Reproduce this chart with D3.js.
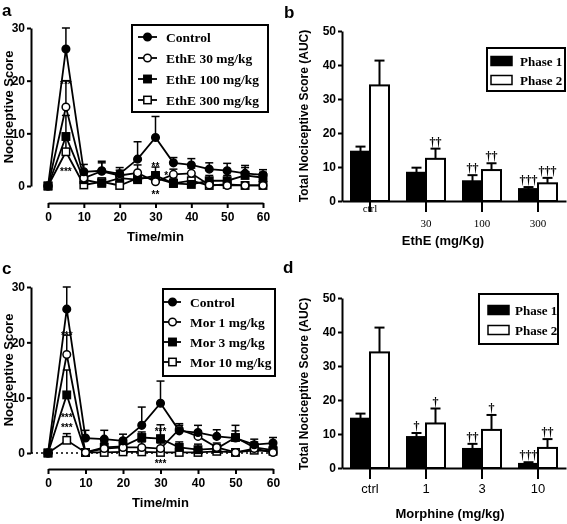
<!DOCTYPE html>
<html><head><meta charset="utf-8">
<script src="https://cdn.jsdelivr.net/npm/d3@7"></script>
<style>body{margin:0;background:#fff}svg{display:block;will-change:transform}text{-webkit-font-smoothing:antialiased}</style>
</head><body>
<svg id="c" width="567" height="524"></svg>
<script>
// ---------- DATA ----------
const times = [0,5,10,15,20,25,30,35,40,45,50,55,60];
const yTicksLine = [0,10,20,30];
const xTicksLine = [0,10,20,30,40,50,60];

// Panel a
const aNames = ["Control","EthE 30 mg/kg","EthE 100 mg/kg","EthE 300 mg/kg"];
const aControl = [0,26,2.7,2.9,2.3,5.1,9.2,4.4,4.0,3.2,2.9,2.4,2.1];
const aEth30   = [0,15,1.5,2.8,2.0,2.5,0.8,2.2,2.4,0.2,0.1,0.1,0.1];
const aEth100  = [0,9.4,1.2,0.5,1.5,1.2,2.0,0.5,0.3,1.0,1.0,2.0,1.6];
const aEth300  = [0,6.5,0.2,0.8,0.1,1.5,1.5,0.5,1.0,0.1,0.3,0.1,0.1];
const aErrCtrl = [0,4,1.4,1.8,1.2,3.3,4,1,1.2,1.2,1.4,1.5,1];
const aErr30   = [0,5,1,1.6,1,1.5,1,1,1,0.5,0.5,0.5,0.5];
const aErr100  = [0,4,1,1,1,1,1.6,1,1,1,1,1.5,1];
const aErr300  = [0,3,0.6,0.5,0.3,1,1,0.5,0.5,0.3,0.3,0.3,0.3];
const aStars = [{t:5,v:19.5,s:"***"},{t:5,v:3.0,s:"***"},{t:30,v:3.9,s:"**"},{t:30,v:-1.4,s:"**"},{t:33,v:2.2,s:"*"}];

// Panel c
const cNames = ["Control","Mor 1 mg/kg","Mor 3 mg/kg","Mor 10 mg/kg"];
const cControl = [0,26,2.7,2.5,2.2,5.0,9.0,4.0,3.7,3.0,2.7,1.5,1.8];
const cMor1    = [0,17.8,0.1,0.8,1.0,1.0,0.8,4.3,3.0,1.0,0.1,0.8,0.1];
const cMor3    = [0,10.5,0.1,1.0,1.2,2.8,2.6,1.0,0.6,0.8,2.8,1.0,0.5];
const cMor10   = [0,2.3,0.1,0.1,0.2,0.2,0.1,0.1,0.1,0.3,0.1,0.5,0.3];
const cErrCtrl = [0,4,1.4,1.6,1.2,3.3,4,1,1.3,1.2,1.3,1,1];
const cErr1    = [0,3.5,0.5,1,1,1,1,1,1,0.5,0.5,0.5,0.5];
const cErr3    = [0,4.5,0.5,1,1,1,2.5,1,1,1,2.2,1,1];
const cErr10   = [0,1.2,0.3,0.3,0.3,0.3,0.3,0.3,0.3,0.3,0.3,0.3,0.3];
const cStars = [{t:5,v:21.5,s:"***"},{t:5,v:6.6,s:"***"},{t:5,v:4.8,s:"***"},{t:30,v:4.2,s:"***"},{t:30,v:-1.6,s:"***"}];

// Bar panels
const phaseNames = ["Phase 1","Phase 2"];
const yTicksBar = [0,10,20,30,40,50];
const bGroups = ["ctrl","30","100","300"];
const bPhase1 = [14.5,8.3,5.8,3.5];
const bPhase2 = [34,12.4,9.1,5.2];
const bErr1 = [1.5,1.5,1.8,0.6];
const bErr2 = [7.3,3.0,2.0,1.6];
const bMarks1 = ["","","††","†††"];
const bMarks2 = ["","††","††","†††"];

const dGroups = ["ctrl","1","3","10"];
const dPhase1 = [14.5,9.1,5.6,1.2];
const dPhase2 = [34,13.1,11.2,5.9];
const dErr1 = [1.5,1.2,1.5,0.5];
const dErr2 = [7.3,4.4,4.4,2.6];
const dMarks1 = ["","†","††","†††"];
const dMarks2 = ["","†","†","††"];

// ---------- DRAW ----------
const svg = d3.select("#c");
const SANS = "'Liberation Sans', Arial, sans-serif";
const SERIF = "'Liberation Serif', 'Times New Roman', serif";

function panelLabel(x,y,t){
  svg.append("text").attr("x",x).attr("y",y).text(t).attr("fill","#000")
    .attr("font-family",SANS).attr("font-weight","bold").attr("font-size",17);
}

function styleAxis(g, fs){
  g.selectAll("path,line").attr("stroke","#000").attr("stroke-width",2);
  g.selectAll("text").attr("font-family",SANS).attr("font-weight","bold")
    .attr("font-size",fs).attr("fill","#000");
}

function markerShape(g, kind, x, y){
  if (kind===0 || kind===1){
    g.append("circle").attr("cx",x).attr("cy",y).attr("r",3.8)
      .attr("fill", kind===0?"#000":"#fff").attr("stroke","#000").attr("stroke-width",1.5);
  } else {
    g.append("rect").attr("x",x-3.7).attr("y",y-3.7).attr("width",7.4).attr("height",7.4)
      .attr("fill", kind===2?"#000":"#fff").attr("stroke","#000").attr("stroke-width",1.5);
  }
}

function linePanel(o){
  const x = d3.scaleLinear().domain([0,60]).range(o.xr);
  const y = d3.scaleLinear().domain([0,30]).range(o.yr);
  const g = svg.append("g");
  const ya = g.append("g").attr("transform",`translate(${o.yAxisX},0)`)
    .call(d3.axisLeft(y).tickValues(yTicksLine).tickSize(4).tickPadding(2).tickSizeOuter(0));
  styleAxis(ya,12);
  const xa = g.append("g").attr("transform",`translate(0,${o.xAxisY})`)
    .call(d3.axisBottom(x).tickValues(xTicksLine).tickSize(5).tickPadding(4).tickSizeOuter(0));
  styleAxis(xa,12);
  if (o.dotted){
    g.append("line").attr("x1",o.yAxisX).attr("x2",x(60)+4).attr("y1",y(0)).attr("y2",y(0))
      .attr("stroke","#000").attr("stroke-width",1.5).attr("stroke-dasharray","2,3");
  }
  g.append("text").attr("x",(x(0)+x(60))/2).attr("y",o.xAxisY+38).attr("text-anchor","middle").attr("fill","#000")
    .attr("font-family",SANS).attr("font-weight","bold").attr("font-size",13).text("Time/min");
  g.append("text").attr("transform",`translate(${o.yLabelX},${(y(0)+y(30))/2}) rotate(-90)`).attr("fill","#000")
    .attr("text-anchor","middle").attr("font-family",SANS).attr("font-weight","bold")
    .attr("font-size",13).text("Nociceptive Score");
  const series = o.series;
  series.forEach((s)=>{
    s.vals.forEach((v,i)=>{
      const e = s.err[i]; if (!e) return;
      const xx = x(times[i]);
      g.append("line").attr("x1",xx).attr("x2",xx).attr("y1",y(v)).attr("y2",y(v+e))
        .attr("stroke","#000").attr("stroke-width",1.5);
      g.append("line").attr("x1",xx-4).attr("x2",xx+4).attr("y1",y(v+e)).attr("y2",y(v+e))
        .attr("stroke","#000").attr("stroke-width",1.5);
    });
  });
  const lg = d3.line().x((d,i)=>x(times[i])).y(d=>y(d));
  series.forEach((s)=>{
    g.append("path").attr("d",lg(s.vals)).attr("fill","none").attr("stroke","#000").attr("stroke-width",1.8);
  });
  series.slice().reverse().forEach((s)=>{
    s.vals.forEach((v,i)=>markerShape(g,s.kind,x(times[i]),y(v)));
  });
  o.stars.forEach(st=>{
    g.append("text").attr("x",x(st.t)).attr("y",y(st.v)+5).attr("text-anchor","middle").attr("fill","#000")
      .attr("font-family",SANS).attr("font-weight","bold").attr("font-size",10).text(st.s);
  });
  const L = o.legend;
  g.append("rect").attr("x",L.x).attr("y",L.y).attr("width",L.w).attr("height",L.h)
    .attr("fill","#fff").attr("stroke","#000").attr("stroke-width",2);
  series.forEach((s,i)=>{
    const yy = L.y + L.first + i*L.step;
    g.append("line").attr("x1",L.mx1).attr("x2",L.mx2).attr("y1",yy).attr("y2",yy)
      .attr("stroke","#000").attr("stroke-width",1.8);
    markerShape(g,s.kind,(L.mx1+L.mx2)/2,yy);
    g.append("text").attr("x",L.tx).attr("y",yy+4.5).text(s.name).attr("fill","#000")
      .attr("font-family",SERIF).attr("font-weight","bold").attr("font-size",13.5);
  });
}

function barPanel(o){
  const x = d3.scaleBand().domain(o.groups).range([o.axisX,566]);
  const y = d3.scaleLinear().domain([0,50]).range(o.yr);
  const g = svg.append("g");
  const bw = 19;
  const sets = [{v:o.p1,e:o.e1,m:o.m1,fill:"#000",off:-bw},{v:o.p2,e:o.e2,m:o.m2,fill:"#fff",off:0}];
  sets.forEach(s=>{
    o.groups.forEach((gname,i)=>{
      const cx = x(gname)+x.bandwidth()/2;
      const x0 = cx + s.off;
      const top = y(s.v[i]+s.e[i]);
      g.append("line").attr("x1",x0+bw/2).attr("x2",x0+bw/2).attr("y1",y(s.v[i])).attr("y2",top)
        .attr("stroke","#000").attr("stroke-width",2);
      g.append("line").attr("x1",x0+bw/2-5).attr("x2",x0+bw/2+5).attr("y1",top).attr("y2",top)
        .attr("stroke","#000").attr("stroke-width",2);
      g.append("rect").attr("x",x0).attr("y",y(s.v[i])).attr("width",bw).attr("height",y(0)-y(s.v[i]))
        .attr("fill",s.fill).attr("stroke","#000").attr("stroke-width",2);
      if (s.m[i]) g.append("text").attr("x",x0+bw/2).attr("y",top-3).attr("text-anchor","middle").attr("fill","#000")
        .attr("font-family",SERIF).attr("font-weight","bold").attr("font-size",12).text(s.m[i]);
    });
  });
  const ya = g.append("g").attr("transform",`translate(${o.axisX},0)`)
    .call(d3.axisLeft(y).tickValues(yTicksBar).tickSize(4).tickPadding(2).tickSizeOuter(0));
  styleAxis(ya,12);
  const xa = g.append("g").attr("transform",`translate(0,${y(0)})`)
    .call(d3.axisBottom(x).tickSize(11).tickPadding(o.tickPad).tickSizeOuter(0));
  styleAxis(xa,12);
  xa.selectAll("text").attr("font-family",o.tickFont).attr("font-weight",o.tickWeight).attr("font-size",o.tickSize);
  if (o.ctrlUp) xa.selectAll(".tick").filter(d=>d==="ctrl").select("text").attr("y",3);
  g.append("text").attr("x",o.xTitleX).attr("y",o.xTitleY).attr("text-anchor","middle").attr("fill","#000")
    .attr("font-family",SANS).attr("font-weight","bold").attr("font-size",13).text(o.xTitle);
  g.append("text").attr("transform",`translate(${o.yLabelX},${o.yLabelY}) rotate(-90)`).attr("fill","#000")
    .attr("text-anchor","middle").attr("font-family",SANS).attr("font-weight","bold")
    .attr("font-size",12).text("Total Nociceptive Score (AUC)");
  const L = o.legend;
  g.append("rect").attr("x",L.x).attr("y",L.y).attr("width",L.w).attr("height",L.h)
    .attr("fill","#fff").attr("stroke","#000").attr("stroke-width",2);
  phaseNames.forEach((n,i)=>{
    const yy = L.y + L.first + i*L.step;
    g.append("rect").attr("x",L.sx).attr("y",yy-4.5).attr("width",21).attr("height",9)
      .attr("fill",i===0?"#000":"#fff").attr("stroke","#000").attr("stroke-width",1.5);
    g.append("text").attr("x",L.tx).attr("y",yy+4.5).text(n).attr("fill","#000")
      .attr("font-family",SERIF).attr("font-weight","bold").attr("font-size",13);
  });
}

panelLabel(2,16,"a"); panelLabel(284,18,"b"); panelLabel(2,274,"c"); panelLabel(283,273,"d");

linePanel({xr:[48,263], yr:[186,28], yAxisX:31, xAxisY:203, yLabelX:13, dotted:false,
  series:[
    {name:aNames[0],vals:aControl,err:aErrCtrl,kind:0},
    {name:aNames[1],vals:aEth30,err:aErr30,kind:1},
    {name:aNames[2],vals:aEth100,err:aErr100,kind:2},
    {name:aNames[3],vals:aEth300,err:aErr300,kind:3}],
  stars:aStars,
  legend:{x:132,y:25,w:136,h:87,first:12,step:21,mx1:138,mx2:157,tx:166}});

linePanel({xr:[48,273], yr:[453,287], yAxisX:31, xAxisY:469, yLabelX:13, dotted:true,
  series:[
    {name:cNames[0],vals:cControl,err:cErrCtrl,kind:0},
    {name:cNames[1],vals:cMor1,err:cErr1,kind:1},
    {name:cNames[2],vals:cMor3,err:cErr3,kind:2},
    {name:cNames[3],vals:cMor10,err:cErr10,kind:3}],
  stars:cStars,
  legend:{x:163,y:289,w:112,h:87,first:13,step:20,mx1:164,mx2:181,tx:190}});

barPanel({groups:bGroups,p1:bPhase1,p2:bPhase2,e1:bErr1,e2:bErr2,m1:bMarks1,m2:bMarks2,
  axisX:342, yr:[201,31], tickFont:SERIF, tickWeight:"normal", tickSize:11, tickPad:7, ctrlUp:true,
  xTitle:"EthE (mg/Kg)", xTitleX:443, xTitleY:245, yLabelX:308, yLabelY:116,
  legend:{x:487,y:48,w:78,h:43,first:13,step:19,sx:491,tx:520}});

barPanel({groups:dGroups,p1:dPhase1,p2:dPhase2,e1:dErr1,e2:dErr2,m1:dMarks1,m2:dMarks2,
  axisX:342, yr:[468,298], tickFont:SANS, tickWeight:"normal", tickSize:13, tickPad:5, ctrlUp:false,
  xTitle:"Morphine (mg/kg)", xTitleX:450, xTitleY:518, yLabelX:308, yLabelY:384,
  legend:{x:479,y:294,w:79,h:50,first:16,step:20,sx:488,tx:515}});
</script>
</body></html>
